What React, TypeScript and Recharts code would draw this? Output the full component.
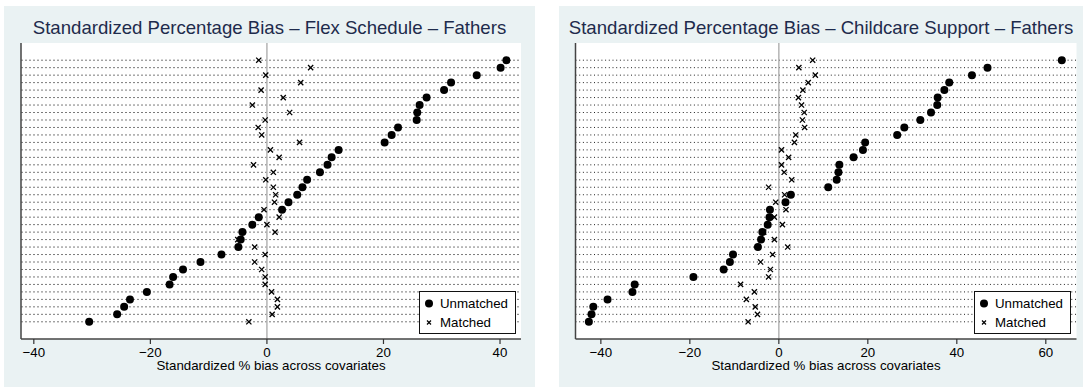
import {
  CartesianGrid,
  Legend,
  ReferenceLine,
  Scatter,
  ScatterChart,
  XAxis,
  YAxis,
} from 'recharts';

// standardized % bias per covariate, rows sorted by unmatched bias (top to bottom)
const FLEX_UNMATCHED = [
  41.1, 40.1, 36.0, 31.6, 30.4, 27.4, 26.2, 25.8, 25.7, 22.5, 21.4, 20.2, 12.3, 11.1, 10.4, 9.1, 6.9, 6.1,
  5.2, 3.7, 2.6, -1.4, -2.5, -4.2, -4.5, -4.9, -7.8, -11.4, -14.4, -16.1, -16.7, -20.6, -23.5, -24.5, -25.7, -30.5,
];
const FLEX_MATCHED = [
  -1.4, 7.5, -0.2, 5.8, -1.0, 2.8, -2.5, 3.9, -0.3, -1.5, -0.9, 5.6, 0.6, 2.1, -2.3, 1.1, -0.2, 1.1,
  1.5, 1.3, -0.5, 2.1, 0.0, 1.4, -5.0, -2.1, -0.3, -2.1, -0.9, -0.3, -0.3, 0.8, 1.8, 1.8, 0.9, -3.1,
];
const CHILD_UNMATCHED = [
  63.6, 46.9, 43.4, 38.3, 37.2, 35.7, 35.6, 34.2, 31.8, 28.2, 26.6, 19.4, 18.9, 16.8, 13.6, 13.4, 13.0, 11.1,
  2.7, 1.5, -2.0, -2.1, -2.5, -3.7, -4.0, -4.7, -10.3, -11.0, -12.4, -19.2, -32.4, -32.9, -38.5, -41.7, -42.1, -42.7,
];
const CHILD_MATCHED = [
  7.6, 4.5, 8.2, 6.6, 5.4, 4.4, 5.1, 5.7, 5.3, 5.8, 3.8, 3.5, 0.6, 2.2, 0.6, 1.2, 2.9, -2.3,
  1.3, -0.7, 1.6, -1.0, 0.8, -3.4, -1.0, 2.0, -1.4, -4.1, -1.9, -2.3, -8.6, -5.5, -7.3, -5.3, -4.8, -6.9,
];

const FLEX_TICKS = [-40, -20, 0, 20, 40];
const CHILD_TICKS = [-40, -20, 0, 20, 40, 60];
const ROWS = FLEX_UNMATCHED.map((_, i) => i + 1);
const SERIES = ['Unmatched', 'Matched'];

const FONT = '"Liberation Sans", Arial, Helvetica, sans-serif';
const PANEL_BG = '#eaf2f3';

const minus = (v: number) => String(v).replace('-', '\u2212');

function Dot(props: any) {
  const { cx, cy } = props;
  return <circle cx={cx} cy={cy} r={4} fill="#000" />;
}

function Cross(props: any) {
  const { cx, cy } = props;
  const s = 2.6;
  return (
    <path
      d={`M${cx - s},${cy - s}L${cx + s},${cy + s}M${cx + s},${cy - s}L${cx - s},${cy + s}`}
      stroke="#000"
      strokeWidth={1.3}
      fill="none"
    />
  );
}

function LegendBox({ payload }: any) {
  const items = [...(payload ?? [])].sort(
    (a: any, b: any) => SERIES.indexOf(a.value) - SERIES.indexOf(b.value),
  );
  return (
    <div
      style={{
        width: 97,
        height: 43,
        boxSizing: 'border-box',
        border: '1px solid #111',
        background: '#fff',
        paddingTop: 2,
        fontFamily: FONT,
        fontSize: 13.3,
        color: '#000',
      }}
    >
      {items.map((item: any) => (
        <div key={item.value} style={{ display: 'flex', alignItems: 'center', height: 19 }}>
          <svg width={19} height={19} style={{ display: 'block' }}>
            {item.value === 'Unmatched' ? (
              <circle cx={9} cy={9.5} r={4} fill="#000" />
            ) : (
              <path d="M7,7.5L11,11.5M11,7.5L7,11.5" stroke="#000" strokeWidth={1.2} />
            )}
          </svg>
          <span style={{ marginLeft: 1 }}>{item.value}</span>
        </div>
      ))}
    </div>
  );
}

interface PanelProps {
  title: string;
  unmatched: number[];
  matched: number[];
  domain: [number, number];
  ticks: number[];
  left: number;
  width: number;
  marginLeft: number;
  marginRight: number;
  dash: string;
  gridColor: string;
}

function BiasPanel(p: PanelProps) {
  const unmatchedPts = p.unmatched.map((v, i) => ({ bias: v, row: ROWS[i] }));
  const matchedPts = p.matched.map((v, i) => ({ bias: v, row: ROWS[i] }));
  const height = 381;

  return (
    <div
      style={{
        position: 'absolute',
        left: p.left,
        top: 6,
        width: p.width,
        height,
        background: PANEL_BG,
        fontFamily: FONT,
      }}
    >
      <div
        style={{
          position: 'absolute',
          top: 11,
          left: 0,
          width: '100%',
          textAlign: 'center',
          fontSize: 18.6,
          color: '#1e2b4c',
          whiteSpace: 'nowrap',
        }}
      >
        {p.title}
      </div>
      <ScatterChart
        width={p.width}
        height={height}
        margin={{ top: 37, right: p.marginRight, bottom: 0, left: p.marginLeft }}
        style={{ fontFamily: FONT }}
      >
        <CartesianGrid horizontal={false} vertical={false} fill="#fff" fillOpacity={1} />
        <XAxis
          type="number"
          dataKey="bias"
          domain={p.domain}
          ticks={p.ticks}
          allowDataOverflow
          tickFormatter={minus}
          tick={{ fontSize: 13.3, fill: '#000' }}
          tickSize={5}
          tickMargin={3.5}
          tickLine={{ stroke: '#333', strokeWidth: 1.2 }}
          axisLine={{ stroke: '#444', strokeWidth: 1.5 }}
          height={48}
          label={{
            value: 'Standardized % bias across covariates',
            position: 'insideBottom',
            offset: 17,
            fontSize: 13.3,
            fill: '#000',
          }}
        />
        <YAxis
          type="number"
          dataKey="row"
          domain={[-1.3, 38.3]}
          reversed
          ticks={ROWS}
          tick={false}
          tickLine={false}
          axisLine={{ stroke: '#444', strokeWidth: 1.5 }}
          width={10}
          allowDataOverflow
        />
        {ROWS.map((r) => (
          <ReferenceLine
            key={r}
            y={r}
            segment={[
              { x: p.domain[0] + 0.7, y: r },
              { x: p.domain[1] - 0.8, y: r },
            ]}
            stroke={p.gridColor}
            strokeDasharray={p.dash}
            strokeWidth={1}
          />
        ))}
        <ReferenceLine x={0} stroke="#b4b4b4" strokeWidth={1.5} />
        <Scatter
          name="Unmatched"
          data={unmatchedPts}
          shape={Dot}
          fill="#000"
          isAnimationActive={false}
        />
        <Scatter
          name="Matched"
          data={matchedPts}
          shape={Cross}
          fill="#000"
          isAnimationActive={false}
        />
        <Legend
          layout="horizontal"
          align="center"
          verticalAlign="middle"
          wrapperStyle={{ left: 415, top: 285, width: 97, height: 43 }}
          content={LegendBox}
        />
      </ScatterChart>
    </div>
  );
}

export default function App() {
  return (
    <div
      style={{
        position: 'absolute',
        left: 0,
        top: 0,
        width: 1083,
        height: 387,
        background: '#fff',
        overflow: 'hidden',
      }}
    >
      <BiasPanel
        title="Standardized Percentage Bias – Flex Schedule – Fathers"
        unmatched={FLEX_UNMATCHED}
        matched={FLEX_MATCHED}
        domain={[-42.2, 43.6]}
        ticks={FLEX_TICKS}
        left={4}
        width={531}
        marginLeft={7}
        marginRight={14}
        dash="2 2"
        gridColor="#7a7a7a"
      />
      <BiasPanel
        title="Standardized Percentage Bias – Childcare Support – Fathers"
        unmatched={CHILD_UNMATCHED}
        matched={CHILD_MATCHED}
        domain={[-45.7, 66.9]}
        ticks={CHILD_TICKS}
        left={559}
        width={524}
        marginLeft={6.5}
        marginRight={6.5}
        dash="1 2.7"
        gridColor="#222"
      />
    </div>
  );
}
